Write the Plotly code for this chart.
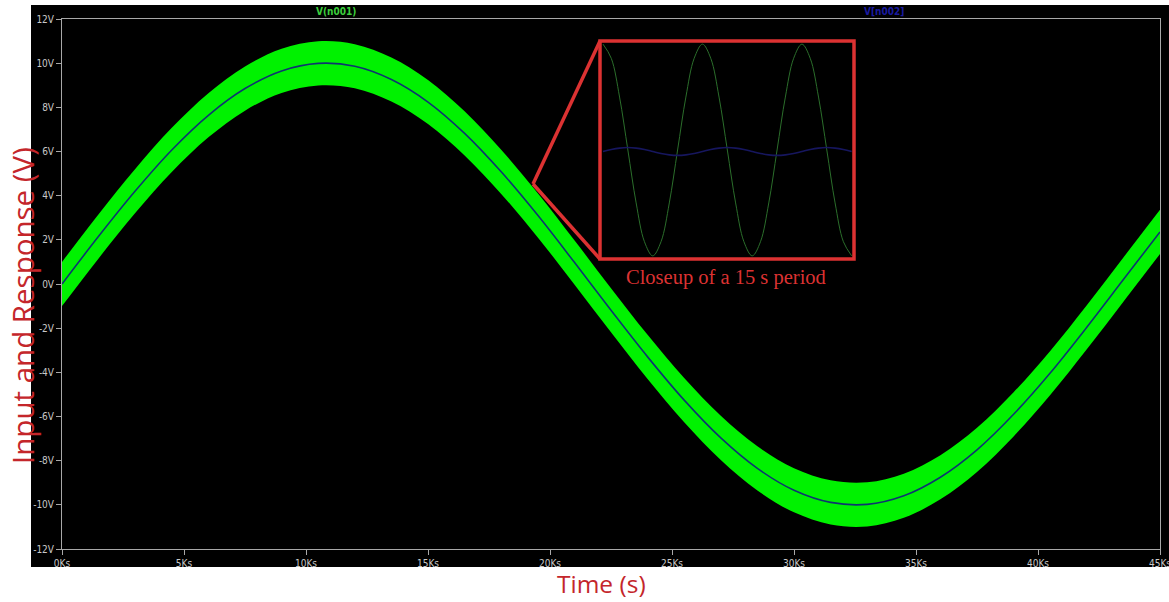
import plotly.graph_objects as go

# ---- main chart data ----
time_ks = [0, 1.5, 3, 4.5, 6, 7.5, 9, 10.5, 12, 13.5, 15, 16.5, 18, 19.5, 21, 22.5,
           24, 25.5, 27, 28.5, 30, 31.5, 33, 34.5, 36, 37.5, 39, 40.5, 42, 43.5, 45]
response_v = [0.00, 2.16, 4.21, 6.07, 7.64, 8.85, 9.65, 9.99, 9.86, 9.26, 8.24, 6.82,
              5.08, 3.11, 0.98, -1.19, -3.30, -5.26, -6.97, -8.35, -9.34, -9.89, -9.98,
              -9.59, -8.75, -7.51, -5.90, -4.03, -1.96, 0.20, 2.36]
input_upper_v = [1.00, 3.16, 5.21, 7.07, 8.64, 9.85, 10.65, 10.99, 10.86, 10.26, 9.24, 7.82,
                 6.08, 4.11, 1.98, -0.19, -2.30, -4.26, -5.97, -7.35, -8.34, -8.89, -8.98,
                 -8.59, -7.75, -6.51, -4.90, -3.03, -0.96, 1.20, 3.36]
input_lower_v = [-1.00, 1.16, 3.21, 5.07, 6.64, 7.85, 8.65, 8.99, 8.86, 8.26, 7.24, 5.82,
                 4.08, 2.11, -0.02, -2.19, -4.30, -6.26, -7.97, -9.35, -10.34, -10.89, -10.98,
                 -10.59, -9.75, -8.51, -6.90, -5.03, -2.96, -0.80, 1.36]

y_ticks = [-12, -10, -8, -6, -4, -2, 0, 2, 4, 6, 8, 10, 12]
y_tick_labels = ["-12V", "-10V", "-8V", "-6V", "-4V", "-2V", "0V", "2V", "4V", "6V", "8V", "10V", "12V"]
x_ticks = [0, 5, 10, 15, 20, 25, 30, 35, 40, 45]
x_tick_labels = ["0Ks", "5Ks", "10Ks", "15Ks", "20Ks", "25Ks", "30Ks", "35Ks", "40Ks", "45Ks"]

# ---- inset (closeup) data ----
inset_t = [0, 1.25, 2.5, 3.75, 5, 6.25, 7.5, 8.75, 10, 11.25, 12.5, 13.75, 15, 16.25,
           17.5, 18.75, 20, 21.25, 22.5, 23.75, 25, 26.25, 27.5, 28.75, 30, 31.25,
           32.5, 33.75, 35, 36.25, 37.5]
inset_input = [1, 0.866, 0.5, 0, -0.5, -0.866, -1, -0.866, -0.5, 0, 0.5, 0.866, 1, 0.866,
               0.5, 0, -0.5, -0.866, -1, -0.866, -0.5, 0, 0.5, 0.866, 1, 0.866,
               0.5, 0, -0.5, -0.866, -1]
inset_response = [-0.014, 0.005, 0.018, 0.023, 0.018, 0.005, -0.014, -0.033, -0.046, -0.051,
                  -0.046, -0.033, -0.014, 0.005, 0.018, 0.023, 0.018, 0.005, -0.014, -0.033,
                  -0.046, -0.051, -0.046, -0.033, -0.014, 0.005, 0.018, 0.023, 0.018, 0.005,
                  -0.014]

GREEN = "#00f200"
BLUE_DARK = "#0e3570"
GRID_GRAY = "#a8a8a8"
RED = "#c4262b"
INSET_RED = "#dc3232"
TICK_FONT = "DejaVu Sans Condensed, Liberation Sans"

fig = go.Figure()

fig.add_trace(go.Scatter(x=time_ks, y=input_lower_v, mode="lines",
                         line=dict(width=0, color=GREEN, shape="spline"),
                         hoverinfo="skip", showlegend=False))
fig.add_trace(go.Scatter(x=time_ks, y=input_upper_v, mode="lines", fill="tonexty",
                         fillcolor=GREEN, line=dict(width=0, color=GREEN, shape="spline"),
                         name="V(n001)", showlegend=False))
fig.add_trace(go.Scatter(x=time_ks, y=response_v, mode="lines",
                         line=dict(width=1.6, color=BLUE_DARK, shape="spline"),
                         name="V[n002]", showlegend=False))

# inset traces
fig.add_trace(go.Scatter(x=inset_t, y=inset_input, mode="lines", xaxis="x2", yaxis="y2",
                         line=dict(width=1, color="#2b6e2b", shape="spline"),
                         showlegend=False))
fig.add_trace(go.Scatter(x=inset_t, y=inset_response, mode="lines", xaxis="x2", yaxis="y2",
                         line=dict(width=1.6, color="#16165e", shape="spline"),
                         showlegend=False))

# geometry helpers (paper coords)
L, R, T, B = 62, 1160, 19, 549
W, H = 1169, 602
def px(x):
    return (x - L) / (R - L)
def py(y):
    return (B - y) / (B - T)

ix0, ix1, iy0, iy1 = 601, 853, 42, 258

fig.update_layout(
    width=W, height=H, autosize=False,
    margin=dict(l=L, r=W - R, t=T, b=H - B, autoexpand=False),
    paper_bgcolor="white",
    plot_bgcolor="black",
    showlegend=False,
    xaxis=dict(range=[0, 45], tickvals=x_ticks, ticktext=x_tick_labels,
               showgrid=False, zeroline=False, showline=True, linecolor=GRID_GRAY,
               linewidth=1, mirror=True, ticks="outside", ticklen=5, tickcolor=GRID_GRAY,
               ticklabeloverflow="allow", automargin=False,
               tickfont=dict(family=TICK_FONT, size=10, color="#c8c8c8")),
    yaxis=dict(range=[-12, 12], tickvals=y_ticks, ticktext=y_tick_labels,
               showgrid=False, zeroline=False, showline=True, linecolor=GRID_GRAY,
               linewidth=1, mirror=True, ticks="outside", ticklen=5, tickcolor=GRID_GRAY,
               ticklabeloverflow="allow", automargin=False,
               tickfont=dict(family=TICK_FONT, size=10, color="#c8c8c8")),
    xaxis2=dict(domain=[px(ix0), px(ix1)], anchor="y2", range=[-0.3, 37.7],
                visible=False, showgrid=False, zeroline=False),
    yaxis2=dict(domain=[py(iy1), py(iy0)], anchor="x2", range=[-1.02, 1.02],
                visible=False, showgrid=False, zeroline=False),
)

shapes = [
    # black outer frame area
    dict(type="rect", xref="paper", yref="paper", x0=px(31), x1=px(1169), y0=py(567), y1=py(5),
         fillcolor="black", line=dict(width=0), layer="below"),
    # inset rectangle
    dict(type="rect", xref="paper", yref="paper", x0=px(600), x1=px(854), y0=py(259), y1=py(41),
         line=dict(color=INSET_RED, width=3.5), fillcolor="rgba(0,0,0,0)", layer="above"),
    # zoom lines
    dict(type="line", xref="paper", yref="paper", x0=px(533), y0=py(184), x1=px(600), y1=py(41),
         line=dict(color=INSET_RED, width=3.5)),
    dict(type="line", xref="paper", yref="paper", x0=px(533), y0=py(184), x1=px(600), y1=py(259),
         line=dict(color=INSET_RED, width=3.5)),
]
fig.update_layout(shapes=shapes)

annotations = [
    dict(text="Input and Response (V)", xref="paper", yref="paper", x=px(22), y=py(306),
         textangle=-90, showarrow=False, xanchor="center", yanchor="middle",
         font=dict(family="Open Sans, Noto Sans, Arial", size=29.5, color=RED)),
    dict(text="Time (s)", xref="paper", yref="paper", x=px(601), y=py(583),
         showarrow=False, xanchor="center", yanchor="middle",
         font=dict(family="Open Sans, Noto Sans, Arial", size=24.5, color=RED)),
    dict(text="Closeup of a 15 s period", xref="paper", yref="paper", x=px(726), y=py(277),
         showarrow=False, xanchor="center", yanchor="middle",
         font=dict(family="Liberation Serif, Times New Roman", size=20.5, color=INSET_RED)),
    dict(text="<b>V(n001)</b>", xref="paper", yref="paper", x=px(336), y=py(12),
         showarrow=False, xanchor="center", yanchor="middle",
         font=dict(family=TICK_FONT, size=10, color="#3ccf3c")),
    dict(text="<b>V[n002]</b>", xref="paper", yref="paper", x=px(884), y=py(12),
         showarrow=False, xanchor="center", yanchor="middle",
         font=dict(family=TICK_FONT, size=10, color="#1a1aa0")),
]
fig.update_layout(annotations=annotations)

fig.write_html("out.html",
               config={"displayModeBar": False},
               post_script="document.body.style.margin='0';document.body.style.overflow='hidden';")
